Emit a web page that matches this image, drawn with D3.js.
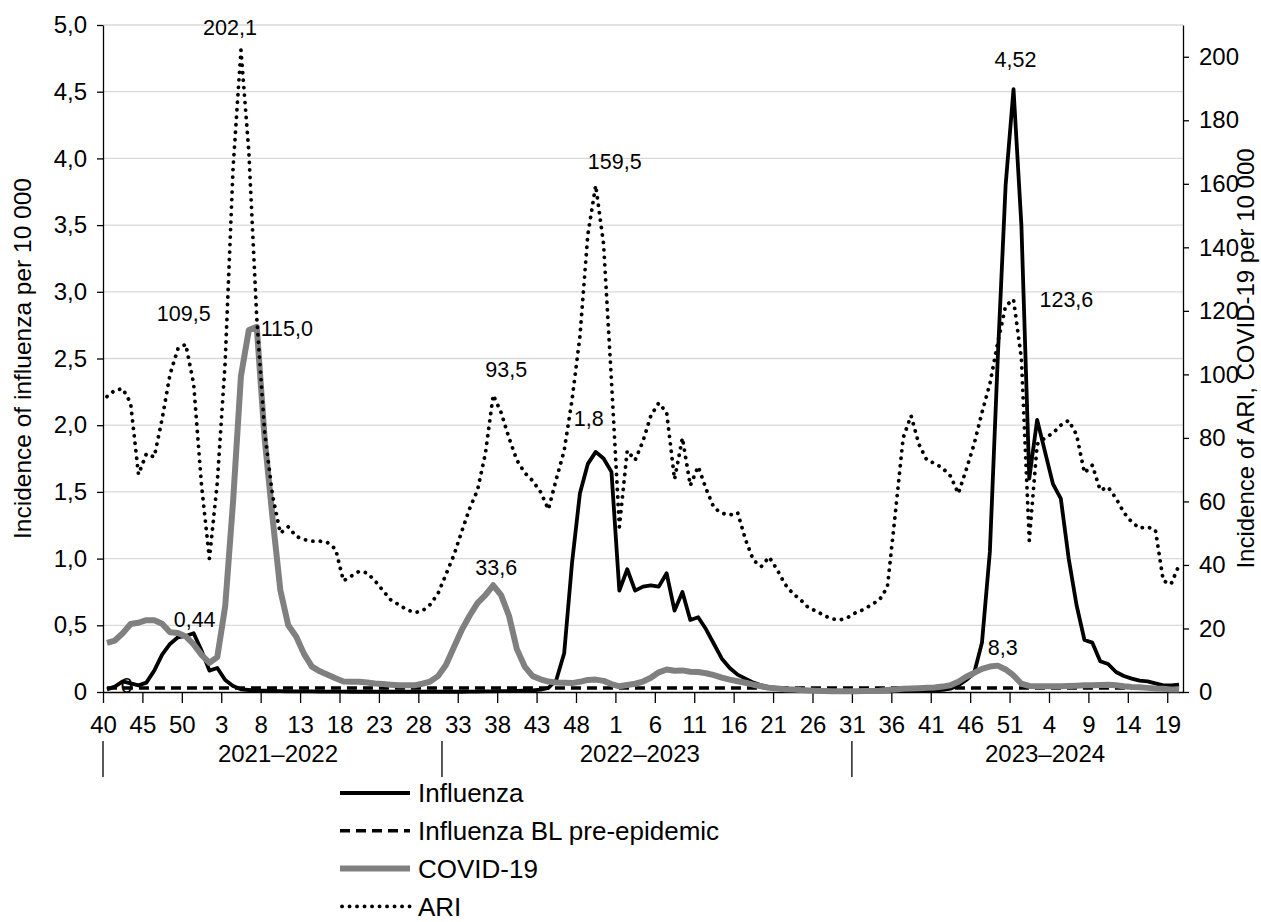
<!DOCTYPE html>
<html>
<head>
<meta charset="utf-8">
<script src="https://cdn.jsdelivr.net/npm/d3@7"></script>
<style>
  body { margin: 0; background: #fff; }
  text { font-family: "Liberation Sans", Arial, sans-serif; fill: #000; }
</style>
</head>
<body>
<div id="chart"></div>
<script>
// categories: ISO weeks from wk 40 2021 to wk 20 2024
var weeks = [
  40, 41, 42, 43, 44, 45, 46, 47, 48, 49, 50, 51, 52,
  1, 2, 3, 4, 5, 6, 7, 8, 9, 10, 11, 12, 13, 14, 15, 16, 17, 18, 19, 20, 21, 22, 23, 24, 25, 26,
  27, 28, 29, 30, 31, 32, 33, 34, 35, 36, 37, 38, 39, 40, 41, 42, 43, 44, 45, 46, 47, 48, 49, 50, 51, 52,
  1, 2, 3, 4, 5, 6, 7, 8, 9, 10, 11, 12, 13, 14, 15, 16, 17, 18, 19, 20, 21, 22, 23, 24, 25, 26,
  27, 28, 29, 30, 31, 32, 33, 34, 35, 36, 37, 38, 39, 40, 41, 42, 43, 44, 45, 46, 47, 48, 49, 50, 51, 52,
  1, 2, 3, 4, 5, 6, 7, 8, 9, 10, 11, 12, 13, 14, 15, 16, 17, 18, 19, 20
];

var seasons = ["2021–2022", "2022–2023", "2023–2024"];
var seasonStart = [0, 43, 95];

// influenza per 10 000 (left axis)
var influenza = [
  0.02, 0.04, 0.08, 0.065, 0.05, 0.07, 0.16, 0.28, 0.36, 0.41,
  0.42, 0.44, 0.31, 0.16, 0.18, 0.09, 0.045, 0.02, 0.015, 0.01,
  0.01, 0.008, 0.006, 0.005, 0.005, 0.004, 0.004, 0.003, 0.003, 0.003,
  0.003, 0.002, 0.002, 0.002, 0.002, 0.002, 0.002, 0.002, 0.002, 0.002,
  0.002, 0.002, 0.002, 0.002, 0.002, 0.002, 0.003, 0.003, 0.004, 0.005,
  0.006, 0.007, 0.008, 0.01, 0.012, 0.018, 0.03, 0.09, 0.29, 0.97,
  1.49, 1.71, 1.80, 1.75, 1.65, 0.76, 0.92, 0.76, 0.79, 0.80,
  0.79, 0.89, 0.61, 0.75, 0.54, 0.56, 0.47, 0.36, 0.25, 0.18,
  0.13, 0.10, 0.07, 0.05, 0.037, 0.03, 0.022, 0.018, 0.014, 0.01,
  0.008, 0.006, 0.005, 0.005, 0.004, 0.004, 0.004, 0.004, 0.005, 0.005,
  0.006, 0.007, 0.008, 0.009, 0.01, 0.012, 0.016, 0.025, 0.05, 0.09,
  0.14, 0.37, 1.05, 2.5, 3.8, 4.52, 3.5, 1.6, 2.04, 1.8,
  1.56, 1.45, 1.0, 0.65, 0.39, 0.37, 0.23, 0.21, 0.15, 0.12,
  0.10, 0.085, 0.08, 0.065, 0.05, 0.05, 0.056
];

// influenza baseline pre-epidemic (left axis)
var influenzaBL = [
  0.03, 0.03, 0.03, 0.03, 0.03, 0.03, 0.03, 0.03, 0.03, 0.03,
  0.03, 0.03, 0.03, 0.03, 0.03, 0.03, 0.03, 0.03, 0.03, 0.03,
  0.03, 0.03, 0.03, 0.03, 0.03, 0.03, 0.03, 0.03, 0.03, 0.03,
  0.03, 0.03, 0.03, 0.03, 0.03, 0.03, 0.03, 0.03, 0.03, 0.03,
  0.03, 0.03, 0.03, 0.03, 0.03, 0.03, 0.03, 0.03, 0.03, 0.03,
  0.03, 0.03, 0.03, 0.03, 0.03, 0.03, 0.03, 0.03, 0.03, 0.03,
  0.03, 0.03, 0.03, 0.03, 0.03, 0.03, 0.03, 0.03, 0.03, 0.03,
  0.03, 0.03, 0.03, 0.03, 0.03, 0.03, 0.03, 0.03, 0.03, 0.03,
  0.03, 0.03, 0.03, 0.03, 0.03, 0.03, 0.03, 0.03, 0.03, 0.03,
  0.03, 0.03, 0.03, 0.03, 0.03, 0.03, 0.03, 0.03, 0.03, 0.03,
  0.03, 0.03, 0.03, 0.03, 0.03, 0.03, 0.03, 0.03, 0.03, 0.03,
  0.03, 0.03, 0.03, 0.03, 0.03, 0.03, 0.03, 0.03, 0.03, 0.03,
  0.03, 0.03, 0.03, 0.03, 0.03, 0.03, 0.03, 0.03, 0.03, 0.03,
  0.03, 0.03, 0.03, 0.03, 0.03, 0.03, 0.03
];

// COVID-19 per 10 000 (right axis)
var covid = [
  15.5, 16.2, 18.5, 21.4, 21.8, 22.6, 22.6, 21.5, 18.8, 18.6,
  17.5, 15, 11.7, 9.2, 11, 27, 60, 99.5, 114, 115.0,
  80, 55, 32, 21, 17.5, 12, 8, 6.5, 5.4, 4.3,
  3.3, 3.2, 3.2, 3, 2.7, 2.5, 2.3, 2.1, 2.1, 2.1,
  2.6, 3.3, 5, 8.5, 14, 19.5, 24, 28, 30.5, 33.6,
  30.5, 24, 13.5, 8, 5, 4, 3.3, 3, 2.9, 2.8,
  3.2, 3.8, 3.9, 3.5, 2.5, 1.8, 2.2, 2.6, 3.3, 4.5,
  6.2, 7.1, 6.7, 6.8, 6.4, 6.3, 5.9, 5.3, 4.5, 3.9,
  3.4, 2.9, 2.3, 1.8, 1.3, 1.1, 0.9, 0.8, 0.6, 0.5,
  0.4, 0.3, 0.2, 0.2, 0.2, 0.25, 0.3, 0.35, 0.4, 0.6,
  0.8, 1.0, 1.1, 1.2, 1.3, 1.4, 1.7, 2.1, 3.2, 4.8,
  6, 7.3, 8.0, 8.3, 7.1, 5.2, 2.6, 1.9, 1.8, 1.8,
  1.8, 1.8, 1.9, 2.0, 2.1, 2.1, 2.2, 2.3, 2.1, 1.8,
  1.6, 1.5, 1.3, 1.1, 1.0, 0.8, 0.75
];

// ARI per 10 000 (right axis)
var ari = [
  93, 95, 95.5, 91, 68.5, 75, 74, 86, 100, 108,
  109.5, 97, 65, 42, 66, 104, 165, 202.1, 170, 118,
  82, 62, 50, 52, 49, 48, 47.5, 47.5, 47, 45,
  35, 36.5, 38, 37.5, 35, 32, 29, 27.5, 26, 25,
  25.5, 27.5, 31, 37, 43, 50.5, 57.7, 63.5, 75, 93.5,
  88, 80, 73, 69, 66.5, 63, 57.5, 67, 76, 92,
  112, 144, 159.5, 141, 98, 52, 76, 73, 79, 87,
  91, 88, 67, 80, 65, 71, 64, 58, 56.3, 55.7,
  56.5, 48, 41.5, 39.5, 42.5, 38.6, 34, 31, 29, 26.5,
  25.5, 24, 23, 22.7, 23.5, 25, 26, 27.5, 29, 33,
  56, 80, 87, 78, 73, 72, 70.5, 68, 62.5, 70,
  78, 88, 97, 110, 121.6, 123.6, 105, 47.7, 78, 80,
  81.5, 84, 85.5, 81, 69, 71.4, 63.5, 64.5, 61, 56.5,
  53.5, 51.6, 52, 51, 35, 34, 40
];

var leftTicks = [0, 0.5, 1, 1.5, 2, 2.5, 3, 3.5, 4, 4.5, 5];
var leftTickLabels = ["0", "0,5", "1,0", "1,5", "2,0", "2,5", "3,0", "3,5", "4,0", "4,5", "5,0"];
var rightTicks = [0, 20, 40, 60, 80, 100, 120, 140, 160, 180, 200];

// data labels: which series, which week index, text
var labelSeries = ["ari", "ari", "covid", "influenza", "ari", "covid", "ari", "influenza", "influenza", "ari", "covid", "bl"];
var labelIndex = [17, 10, 19, 11, 49, 49, 62, 62, 115, 115, 113, 2];
var labelText = ["202,1", "109,5", "115,0", "0,44", "93,5", "33,6", "159,5", "1,8", "4,52", "123,6", "8,3", "0"];

// label placement (offset of text from its point)
var labelPlace = [
  {dx: -11, dy: -23, anchor: "middle"},
  {dx: -2, dy: -31, anchor: "middle"},
  {dx: 4, dy: 2, anchor: "start"},
  {dx: 1, dy: -14, anchor: "middle"},
  {dx: 13, dy: -26, anchor: "middle"},
  {dx: 3, dy: -18, anchor: "middle"},
  {dx: 19, dy: -24, anchor: "middle"},
  {dx: -7, dy: -34, anchor: "middle"},
  {dx: 2, dy: -30, anchor: "middle"},
  {dx: 26, dy: 0, anchor: "start"},
  {dx: 5, dy: -18, anchor: "middle"},
  {dx: 4, dy: -3, anchor: "middle"}
];

var svgWidth = 1261;
var svgHeight = 922;
var plot = {left: 103, right: 1183, top: 25, bottom: 692};

var svg = d3.select("#chart")
  .append("svg")
  .attr("width", svgWidth)
  .attr("height", svgHeight)
  .style("background", "#fff");

// scales: each week is a slot, the point sits in the middle of its slot
var x = d3.scaleLinear().domain([0, weeks.length]).range([plot.left, plot.right]);
var yLeft = d3.scaleLinear().domain([0, 5]).range([plot.bottom, plot.top]);
var yRight = d3.scaleLinear().domain([0, 210]).range([plot.bottom, plot.top]);

// gridlines
svg.append("g")
  .selectAll("line")
  .data(leftTicks.filter(d => d > 0))
  .enter()
  .append("line")
  .attr("x1", plot.left)
  .attr("x2", plot.right)
  .attr("y1", d => yLeft(d))
  .attr("y2", d => yLeft(d))
  .attr("stroke", "#d9d9d9")
  .attr("stroke-width", 1.3);

// left axis
var leftAxis = svg.append("g")
  .attr("transform", `translate(${plot.left}, 0)`)
  .call(d3.axisLeft(yLeft)
    .tickValues(leftTicks)
    .tickFormat((d, i) => leftTickLabels[i])
    .tickSize(6)
    .tickPadding(10)
    .tickSizeOuter(0));
leftAxis.selectAll("text").style("font-size", "24px");

// right axis
var rightAxis = svg.append("g")
  .attr("transform", `translate(${plot.right}, 0)`)
  .call(d3.axisRight(yRight)
    .tickValues(rightTicks)
    .tickSize(6)
    .tickPadding(10)
    .tickSizeOuter(0));
rightAxis.selectAll("text").style("font-size", "24px");

// bottom axis, a tick every 5 weeks
var tickIdx = d3.range(0, weeks.length, 5);
var bottomAxis = svg.append("g")
  .attr("transform", `translate(0, ${plot.bottom})`)
  .call(d3.axisBottom(x)
    .tickValues(tickIdx)
    .tickFormat(i => weeks[i])
    .tickSize(11)
    .tickPadding(13)
    .tickSizeOuter(0));
bottomAxis.selectAll("text").style("font-size", "24px");

svg.selectAll(".domain, .tick line")
  .attr("stroke", "#000")
  .attr("stroke-width", 1.3);

// season groups under the week labels
var seasonLabelAt = [22.2, 68.1, 119.5];
svg.append("g")
  .selectAll("line")
  .data(seasonStart)
  .enter()
  .append("line")
  .attr("x1", d => x(d))
  .attr("x2", d => x(d))
  .attr("y1", 741)
  .attr("y2", 777)
  .attr("stroke", "#000")
  .attr("stroke-width", 1.3);

svg.append("g")
  .selectAll("text")
  .data(seasons)
  .enter()
  .append("text")
  .attr("x", (d, i) => x(seasonLabelAt[i]))
  .attr("y", 762)
  .attr("text-anchor", "middle")
  .style("font-size", "24px")
  .text(d => d);

// axis titles
svg.append("text")
  .attr("transform", `translate(31, ${(plot.top + plot.bottom) / 2}) rotate(-90)`)
  .attr("text-anchor", "middle")
  .style("font-size", "24.5px")
  .text("Incidence of influenza per 10 000");

svg.append("text")
  .attr("transform", `translate(1254, ${(plot.top + plot.bottom) / 2}) rotate(-90)`)
  .attr("text-anchor", "middle")
  .style("font-size", "24px")
  .text("Incidence of ARI, COVID-19 per 10 000");

// series
var seriesDefs = {
  influenza: {values: influenza, y: yLeft, stroke: "#000", width: 3.8, dash: null, cap: "butt"},
  bl: {values: influenzaBL, y: yLeft, stroke: "#000", width: 3.6, dash: "10 6", cap: "butt"},
  covid: {values: covid, y: yRight, stroke: "#808080", width: 6, dash: null, cap: "butt"},
  ari: {values: ari, y: yRight, stroke: "#000", width: 3.8, dash: "0.1 7.4", cap: "round"}
};

// data labels drawn first, lines go over them
var labelsGroup = svg.append("g");
labelText.forEach(function(t, k) {
  var s = seriesDefs[labelSeries[k]];
  var i = labelIndex[k];
  var p = labelPlace[k];
  labelsGroup.append("text")
    .attr("x", x(i + 0.5) + p.dx)
    .attr("y", s.y(s.values[i]) + p.dy)
    .attr("dy", "0.36em")
    .attr("text-anchor", p.anchor)
    .style("font-size", "21.5px")
    .text(t);
});

["influenza", "bl", "covid", "ari"].forEach(function(key) {
  var s = seriesDefs[key];
  var line = d3.line()
    .x((d, i) => x(i + 0.5))
    .y(d => s.y(d));
  svg.append("path")
    .datum(s.values)
    .attr("d", line)
    .attr("fill", "none")
    .attr("stroke", s.stroke)
    .attr("stroke-width", s.width)
    .attr("stroke-linejoin", "round")
    .attr("stroke-linecap", s.cap)
    .attr("stroke-dasharray", s.dash);
});

// legend
var legendNames = ["Influenza", "Influenza BL pre-epidemic", "COVID-19", "ARI"];
var legendKeys = ["influenza", "bl", "covid", "ari"];
var legend = svg.append("g").attr("transform", "translate(340, 793)");
legendKeys.forEach(function(key, k) {
  var s = seriesDefs[key];
  var row = legend.append("g").attr("transform", `translate(0, ${k * 37.8})`);
  row.append("line")
    .attr("x1", key === "ari" ? 2 : 0)
    .attr("x2", 70)
    .attr("y1", 0)
    .attr("y2", 0)
    .attr("stroke", s.stroke)
    .attr("stroke-width", s.width)
    .attr("stroke-linecap", s.cap)
    .attr("stroke-dasharray", s.dash);
  row.append("text")
    .attr("x", 78)
    .attr("y", 0)
    .attr("dy", "0.36em")
    .style("font-size", "26px")
    .text(legendNames[k]);
});
</script>
</body>
</html>
